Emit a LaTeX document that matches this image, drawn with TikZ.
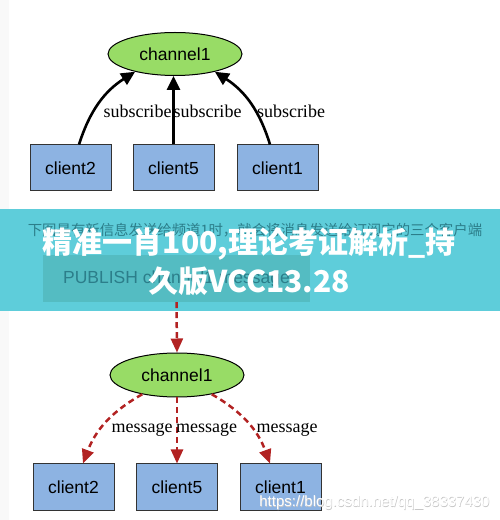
\documentclass[tikz,border=0pt]{standalone}
\usepackage{fontspec}
\setmainfont{Liberation Serif}
\setsansfont{Liberation Sans}
\newfontfamily\cjk{Noto Sans CJK SC}
\usetikzlibrary{positioning,shapes.geometric,arrows.meta}
\definecolor{chgreen}{RGB}{152,220,102}
\definecolor{clblue}{RGB}{141,179,226}
\definecolor{msgred}{RGB}{178,34,34}
\definecolor{bannercyan}{RGB}{94,205,218}
\definecolor{boxteal}{RGB}{84,188,194}
\definecolor{textteal}{RGB}{44,126,138}

\begin{document}
\begin{tikzpicture}[x=1pt,y=1pt,
		chan/.style={ellipse,draw=black,line width=1pt,fill=chgreen,minimum width=134pt,minimum height=43pt,inner sep=0pt,font=\sffamily\fontsize{17.5}{20}\selectfont},
		client/.style={rectangle,draw=black!80,line width=1pt,fill=clblue,minimum width=81pt,minimum height=46pt,inner sep=0pt,font=\sffamily\fontsize{17.5}{20}\selectfont},
		lbl/.style={font=\fontsize{18}{20}\selectfont,inner sep=0pt},
		sub/.style={line width=2.6pt,-{Triangle[length=14pt,width=13pt]}},
		msg/.style={msgred,line width=2.5pt,dash pattern=on 6pt off 4pt,-{Triangle[length=14pt,width=12pt]}}]
	\useasboundingbox (0,0) rectangle (500,520);
	\fill[gray!5] (0,0) rectangle (9,520);
	
	%订阅
	\node[chan] (topch) at (175,466) {channel1};
	\foreach \id/\x in {2/70.5,5/173.5,1/277.5} {
		\node[client] (tc\id) at (\x,352) {client\id};
	}
	\draw[sub] ([xshift=8.5pt]tc2.north) to[bend left=20] (topch.204);
	\draw[sub] (tc5.north) -- (tc5.north |- topch.south);
	\draw[sub] ([xshift=-7.5pt]tc1.north) to[bend right=20] (topch.336);
	\node[lbl] (sub2) at (137.5,409) {subscribe};
	\node[lbl] (sub5) at (207.5,409) {subscribe};
	\node[lbl] (sub1) at (291,409) {subscribe};
	
	% 发送消息
	\node[chan,minimum height=44pt] (botch) at (177,145) {channel1};
	\foreach \id/\x in {2/73.5,5/177,1/280.5} {
		\node[client,minimum height=47pt] (bc\id) at (\x,32.5) {client\id};
	}
	\draw[msg] (botch.209) to[bend right=20] ([xshift=9.5pt]bc2.north);
	\draw[msg] (botch.south) -- (botch.south |- bc5.north);
	\draw[msg] (botch.331) to[bend left=20] ([xshift=-10.5pt]bc1.north);
	\node[lbl] (msg2) at (142,90) {message};
	\node[lbl] (msg5) at (206.5,90) {message};
	\node[lbl] (msg1) at (287,90) {message};
	
	% 横幅
	\fill[bannercyan] (0,209) rectangle (500,311);
	\node[font=\cjk\fontsize{14.4}{16}\selectfont,text=textteal] (note) at (255,290) {下图是有新信息发送给频道1时，就会将消息发送给订阅它的三个客户端};
	\node[fill=boxteal,minimum width=267pt,minimum height=47pt,inner sep=0pt,font=\sffamily\fontsize{17.5}{20}\selectfont,text=textteal] (pub) at (176.5,241.5) {PUBLISH channel1 message};
	\draw[msg] (pub.south) -- (botch.north);
	\node[font=\cjk\bfseries\fontsize{30}{39}\selectfont,text=white,align=center] (title) at (249,258) {精准一肖100,理论考证解析\_持\\久版VCC13.28};
	
	% 水印
	\node[font=\sffamily\fontsize{15}{17}\selectfont,text=gray!45] (wmshade) at (375,16.4) {https://blog.csdn.net/qq\_38337430};
	\node[font=\sffamily\fontsize{15}{17}\selectfont,text=white] (wm) at (374.5,17) {https://blog.csdn.net/qq\_38337430};
\end{tikzpicture}
\end{document}
